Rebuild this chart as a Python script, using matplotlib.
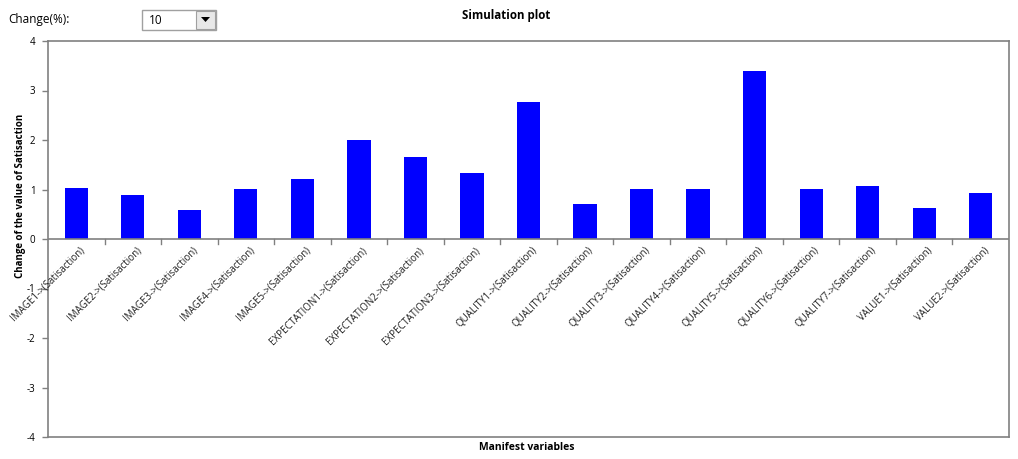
import matplotlib
matplotlib.use("Agg")
import matplotlib.pyplot as plt
from matplotlib.patches import Rectangle, Polygon
import numpy as np

categories = ["IMAGE1->(Satisaction)", "IMAGE2->(Satisaction)", "IMAGE3->(Satisaction)",
              "IMAGE4->(Satisaction)", "IMAGE5->(Satisaction)", "EXPECTATION1->(Satisaction)",
              "EXPECTATION2->(Satisaction)", "EXPECTATION3->(Satisaction)", "QUALITY1->(Satisaction)",
              "QUALITY2->(Satisaction)", "QUALITY3->(Satisaction)", "QUALITY4->(Satisaction)",
              "QUALITY5->(Satisaction)", "QUALITY6->(Satisaction)", "QUALITY7->(Satisaction)",
              "VALUE1->(Satisaction)", "VALUE2->(Satisaction)"]
values = [1.03, 0.89, 0.58, 1.02, 1.21, 2.00, 1.65, 1.33, 2.77,
          0.70, 1.01, 1.01, 3.39, 1.01, 1.07, 0.62, 0.93]
yticks = [-4, -3, -2, -1, 0, 1, 2, 3, 4]

plt.rcParams['font.family'] = ['Open Sans', 'DejaVu Sans']
W, H = 1018, 459
fig = plt.figure(figsize=(W / 100, H / 100), dpi=100)
ax = fig.add_axes([48 / W, 1 - 437 / H, (1009 - 48) / W, (437 - 41) / H])

gray = '#808080'
x = np.arange(len(categories))
ax.bar(x, values, width=0.41, color='#0000ff', edgecolor='none', zorder=3)
ax.set_xlim(-0.5, len(categories) - 0.5)
ax.set_ylim(-4, 4)
ax.set_yticks(yticks)
ax.set_yticklabels([str(v) for v in yticks], fontsize=7)

for s in ['left', 'right', 'top', 'bottom']:
    ax.spines[s].set_color(gray)
    ax.spines[s].set_linewidth(1.2)

# x-axis line at zero with boundary ticks
ax.axhline(0, color=gray, lw=1.2, zorder=4)
ax.set_xticks([])
for b in np.arange(0.5, len(categories) - 0.5, 1.0):
    ax.plot([b, b], [0, -0.1], color=gray, lw=1, zorder=4, clip_on=False)
for xi, lab in zip(x, categories):
    ax.text(xi + 0.05, -0.12, lab, rotation=45, ha='right', va='top',
            rotation_mode='anchor', fontsize=7.0, color='#202020')

ax.tick_params(axis='y', colors=gray, length=4, width=1, labelcolor='black', pad=5)

fig.text(21 / W, 1 - 196 / H, "Change of the value of Satisaction", rotation=90,
         ha='center', va='center', fontsize=7, fontweight='bold')
fig.text(527 / W, 1 - 447 / H, "Manifest variables", ha='center', va='center',
         fontsize=7.5, fontweight='bold')
fig.text(506.5 / W, 1 - 15 / H, "Simulation plot", ha='center', va='center',
         fontsize=8.3, fontweight='bold')

# Change(%) widget
fig.text(8 / W, 1 - 20 / H, "Change(%):", ha='left', va='center', fontsize=8.5)
fig.patches.append(Rectangle((142 / W, 1 - 30 / H), 74 / W, 20 / H, transform=fig.transFigure,
                             facecolor='white', edgecolor='#a0a0a0', lw=1))
fig.patches.append(Rectangle((196 / W, 1 - 29 / H), 19 / W, 18 / H, transform=fig.transFigure,
                             facecolor='#e8e8e8', edgecolor='#a0a0a0', lw=0.8))
fig.patches.append(Polygon([[201 / W, 1 - 17 / H], [210 / W, 1 - 17 / H], [205.5 / W, 1 - 22 / H]],
                           closed=True, transform=fig.transFigure, facecolor='black', edgecolor='none'))
fig.text(149 / W, 1 - 20 / H, "10", ha='left', va='center', fontsize=8.5)

fig.savefig("out.png", dpi=100)
